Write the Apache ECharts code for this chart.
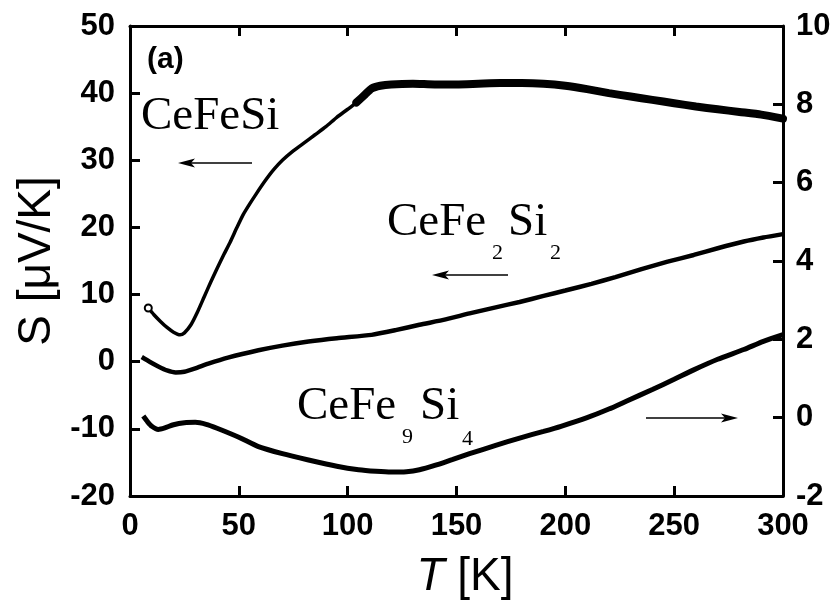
<!DOCTYPE html>
<html>
<head>
<meta charset="utf-8">
<script src="https://cdn.jsdelivr.net/npm/echarts@6/dist/echarts.min.js"></script>
<style>
  html, body { margin: 0; padding: 0; background: #fff; }
  #chart { width: 836px; height: 600px; }
</style>
</head>
<body>
<div id="chart"></div>
<script>
// Thermopower S(T) of three Ce–Fe–Si compounds.
// Each array holds [T in K, value]; CeFeSi and CeFe2Si2 use the left axis (µV/K),
// CeFe9Si4 uses the right axis.
const cefesi = [
  [8.4, 8.0], [11, 7.0], [14, 6.0], [17, 5.1], [20, 4.4], [23, 4.0], [25, 4.3],
  [28, 5.5], [31, 7.4], [34, 9.6], [37, 11.8], [40, 13.9], [43, 15.9], [46, 17.8],
  [49, 19.9], [52, 21.9], [55, 23.5], [58, 25.0], [62, 26.9], [66, 28.6], [70, 30.0],
  [75, 31.4], [80, 32.6], [85, 33.8], [90, 35.0], [95, 36.4], [100, 37.6], [104, 38.6],
  [108, 39.8], [111, 40.7], [115, 41.1], [120, 41.3], [130, 41.4], [140, 41.3],
  [150, 41.3], [160, 41.4], [170, 41.5], [180, 41.5], [190, 41.4], [200, 41.1],
  [210, 40.6], [220, 40.0], [230, 39.5], [240, 39.0], [250, 38.5], [260, 38.0],
  [270, 37.6], [280, 37.2], [290, 36.8], [300, 36.2]
];
const cefe2si2 = [
  [5.4, 0.7], [9, 0.0], [13, -0.7], [17, -1.3], [21, -1.6], [25, -1.5], [30, -1.0],
  [36, -0.3], [45, 0.6], [59, 1.7], [70, 2.4], [82, 3.0], [95, 3.5], [111, 4.0],
  [122, 4.7], [133, 5.5], [145, 6.3], [156, 7.2], [168, 8.1], [179, 8.9], [190, 9.8],
  [200, 10.6], [212, 11.6], [223, 12.6], [235, 13.8], [247, 14.9], [259, 15.9],
  [270, 16.9], [282, 17.9], [291, 18.5], [300, 19.0]
];
const cefe9si4 = [
  [6.1, 0.04], [8, -0.1], [10, -0.22], [13, -0.30], [16, -0.26], [20, -0.18],
  [25, -0.13], [30, -0.12], [35, -0.17], [40, -0.27], [50, -0.50], [59, -0.74],
  [70, -0.92], [82, -1.08], [95, -1.24], [105, -1.33], [113, -1.37], [120, -1.39],
  [127, -1.38], [133, -1.33], [140, -1.22], [148, -1.07], [156, -0.92], [168, -0.71],
  [179, -0.52], [190, -0.35], [198, -0.22], [210, 0.0], [220, 0.22], [228, 0.42],
  [240, 0.72], [250, 0.98], [259, 1.22], [270, 1.49], [282, 1.74], [291, 1.95], [300, 2.12]
];
// Axis ranges / ticks
const tRange = [0, 300, 50];
const leftRange = [-20, 50, 10];
const rightRange = [-2, 10, 2];
// Above ~104 K the CeFeSi data scatter into a broad band
const noisyFrom = 104;

const SANS = '"Liberation Sans", Arial, sans-serif';
const SERIF = '"Liberation Serif", "Times New Roman", serif';

const chart = echarts.init(document.getElementById('chart'), null, { renderer: 'canvas' });

const axisLine = { show: true, onZero: false, lineStyle: { color: '#000', width: 3 } };
const axisTick = { show: true, inside: true, length: 10, lineStyle: { color: '#000', width: 3 } };
const tickLabel = { color: '#000', fontFamily: SANS, fontWeight: 'bold', fontSize: 31 };

function txt(text, x, y, font, extra) {
  return Object.assign({
    type: 'text',
    style: { text: text, x: x, y: y, font: font, fill: '#000', textVerticalAlign: 'middle', verticalAlign: 'middle' }
  }, extra || {});
}
function arrow(x1, x2, y) {
  const dir = x2 > x1 ? 1 : -1;
  return [
    { type: 'line', shape: { x1: x1, y1: y, x2: x2 - dir * 10, y2: y }, style: { stroke: '#000', lineWidth: 1.5 } },
    { type: 'polygon', shape: { points: [[x2, y], [x2 - dir * 17, y - 4.5], [x2 - dir * 13, y], [x2 - dir * 17, y + 4.5]] }, style: { fill: '#000' } }
  ];
}

const serifBig = '47px ' + SERIF;
const serifSub = '22px ' + SERIF;

const option = {
  backgroundColor: '#fff',
  animation: false,
  grid: { left: 130, right: 53, top: 26, bottom: 104, containLabel: false, outerBoundsMode: 'none' },
  xAxis: [
    {
      type: 'value', min: tRange[0], max: tRange[1], interval: tRange[2], position: 'bottom',
      axisLine: axisLine, axisTick: axisTick, splitLine: { show: false },
      axisLabel: Object.assign({ margin: 15 }, tickLabel)
    },
    {
      type: 'value', min: tRange[0], max: tRange[1], interval: tRange[2], position: 'top',
      axisLine: axisLine, axisTick: axisTick, splitLine: { show: false }, axisLabel: { show: false }
    }
  ],
  yAxis: [
    {
      type: 'value', min: leftRange[0], max: leftRange[1], interval: leftRange[2], position: 'left',
      axisLine: axisLine, axisTick: axisTick, splitLine: { show: false },
      axisLabel: Object.assign({ margin: 15 }, tickLabel)
    },
    {
      type: 'value', min: rightRange[0], max: rightRange[1], interval: rightRange[2], position: 'right',
      axisLine: axisLine, axisTick: axisTick, splitLine: { show: false },
      axisLabel: Object.assign({ margin: 13 }, tickLabel)
    }
  ],
  series: [
    {
      name: 'CeFeSi', type: 'line', xAxisIndex: 0, yAxisIndex: 0, smooth: 0.2,
      showSymbol: true, symbol: 'none',
      data: cefesi.map((p, i) => i === 0 ? { value: p, symbol: 'emptyCircle', symbolSize: 7 } : { value: p }),
      itemStyle: { color: '#000', borderWidth: 1.5 },
      lineStyle: { color: '#000', width: 3.5 }
    },
    {
      name: 'CeFeSi band', type: 'line', xAxisIndex: 0, yAxisIndex: 0, smooth: 0.2,
      showSymbol: false,
      data: cefesi.filter(p => p[0] >= noisyFrom),
      lineStyle: { color: '#000', width: 8, cap: 'round', join: 'round' }
    },
    {
      name: 'CeFe2Si2', type: 'line', xAxisIndex: 0, yAxisIndex: 0, smooth: 0.2,
      showSymbol: false, data: cefe2si2,
      lineStyle: { color: '#000', width: 4.5 }
    },
    {
      name: 'CeFe9Si4', type: 'line', xAxisIndex: 0, yAxisIndex: 1, smooth: 0.2,
      showSymbol: false, data: cefe9si4,
      lineStyle: { color: '#000', width: 5 }
    }
  ],
  graphic: [
    // panel tag
    txt('(a)', 147, 60, 'bold 30px ' + SANS),
    // compound labels
    txt('CeFeSi', 141, 117, serifBig),
    txt('CeFe', 387, 223, serifBig),
    txt('2', 492, 253, serifSub),
    txt('Si', 508, 223, serifBig),
    txt('2', 550, 253, serifSub),
    txt('CeFe', 297, 407, serifBig),
    txt('9', 402, 437, serifSub),
    txt('Si', 420, 407, serifBig),
    txt('4', 462, 439, serifSub),
    // arrows pointing to the axis each curve is read from
    ...arrow(252, 178, 163),
    ...arrow(508, 432, 275),
    ...arrow(646, 738, 418),
    // axis titles
    {
      type: 'text',
      style: {
        text: '{i|T} [K]', x: 465, y: 577, textAlign: 'center', textVerticalAlign: 'middle', verticalAlign: 'middle',
        font: '46px ' + SANS, fill: '#000',
        rich: { i: { fontStyle: 'italic', fontSize: 46, fontFamily: SANS } }
      }
    },
    {
      type: 'text', x: 37, y: 261, rotation: Math.PI / 2,
      style: {
        text: 'S [\u03bcV/K]', x: 0, y: 0, textAlign: 'center', textVerticalAlign: 'middle', verticalAlign: 'middle',
        font: '46px ' + SANS, fill: '#000'
      }
    }
  ]
};

chart.setOption(option);
</script>
</body>
</html>
